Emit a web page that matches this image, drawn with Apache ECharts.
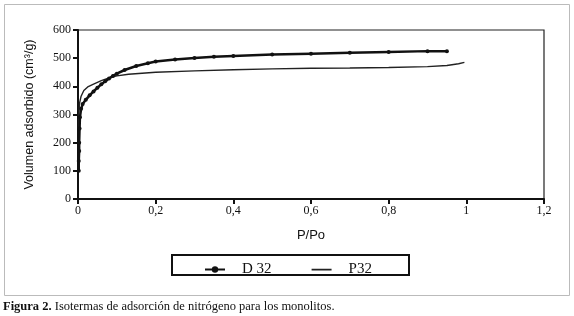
<!DOCTYPE html>
<html>
<head>
<meta charset="utf-8">
<script src="https://cdn.jsdelivr.net/npm/echarts@6/dist/echarts.min.js"></script>
<style>
html,body{margin:0;padding:0;background:#fff;}
#chart{width:574px;height:316px;}
</style>
</head>
<body>
<div id="chart"></div>
<script>
// Data
const seriesNames = ['D 32', 'P32'];
const d32 = [[0.002,100],[0.002,135],[0.003,170],[0.003,200],[0.004,250],[0.005,290],[0.008,320],[0.012,337],[0.02,352],[0.03,368],[0.04,382],[0.05,395],[0.06,407],[0.07,418],[0.08,428],[0.09,437],[0.1,445],[0.12,458],[0.15,472],[0.18,482],[0.2,488],[0.25,495],[0.3,501],[0.35,505],[0.4,508],[0.5,513],[0.6,516],[0.7,519],[0.8,522],[0.9,525],[0.95,525]];
const p32 = [[0.001,250],[0.002,300],[0.004,340],[0.008,365],[0.015,385],[0.025,398],[0.04,408],[0.06,420],[0.08,430],[0.1,437],[0.13,443],[0.2,450],[0.3,455],[0.4,459],[0.5,462],[0.6,464],[0.7,465],[0.8,467],[0.9,470],[0.95,474],[0.98,480],[0.995,485]];
const xTicks = [0, 0.2, 0.4, 0.6, 0.8, 1, 1.2];
const yTicks = [0, 100, 200, 300, 400, 500, 600];
const xTitle = 'P/Po';
const yTitle = 'Volumen adsorbido (cm³/g)';
const captionBold = 'Figura 2.';
const captionText = ' Isotermas de adsorción de nitrógeno para los monolitos.';

const chart = echarts.init(document.getElementById('chart'), null, {renderer:'canvas'});
const serif = '"Liberation Serif", "DejaVu Serif", serif';
const sans = '"Liberation Sans", Arial, sans-serif';
const lineIcon = 'path://M0,0h0.01v0.01h-0.01zM0,3.3h20v1.6h-20zM0,8h0.01v0.01h-0.01z';
chart.setOption({
  animation: false,
  backgroundColor: '#fff',
  grid: {left: 78, top: 30, right: 30, bottom: 117, show: true, borderColor: '#222', borderWidth: 1.2, backgroundColor: 'transparent'},
  xAxis: {
    type: 'value', min: xTicks[0], max: xTicks[xTicks.length-1], interval: 0.2,
    name: xTitle, nameLocation: 'middle', nameGap: 30,
    nameTextStyle: {fontFamily: sans, fontSize: 13, color: '#111'},
    axisLine: {show: true, onZero: false, lineStyle: {color: '#111', width: 2}},
    axisTick: {show: true, length: 5, lineStyle: {color: '#111', width: 2}},
    axisLabel: {fontFamily: serif, fontSize: 12, color: '#111', margin: 6,
      formatter: v => String(+v.toFixed(2)).replace('.', ',')},
    splitLine: {show: false}
  },
  yAxis: {
    type: 'value', min: yTicks[0], max: yTicks[yTicks.length-1], interval: 100,
    name: yTitle, nameLocation: 'middle', nameGap: 42,
    nameTextStyle: {fontFamily: sans, fontSize: 12.5, color: '#111'},
    axisLine: {show: true, onZero: false, lineStyle: {color: '#111', width: 2}},
    axisTick: {show: true, length: 5, lineStyle: {color: '#111', width: 2}},
    axisLabel: {fontFamily: serif, fontSize: 12, color: '#111', margin: 7},
    splitLine: {show: false}
  },
  legend: {
    left: 199, top: 257, itemWidth: 20, itemHeight: 8, itemGap: 40,
    textStyle: {fontFamily: serif, fontSize: 15, color: '#111', padding: [0, 0, 0, 12]},
    data: [
      {name: seriesNames[0]},
      {name: seriesNames[1], icon: lineIcon}
    ]
  },
  graphic: [
    {type: 'rect', shape: {x: 4.5, y: 4.5, width: 565, height: 291}, style: {fill: 'none', stroke: '#bbb', lineWidth: 1}, z: -1},
    {type: 'rect', shape: {x: 172, y: 255, width: 237, height: 20}, style: {fill: 'none', stroke: '#111', lineWidth: 2}},
    {type: 'text', left: 3, top: 300, style: {
      text: '{b|' + captionBold + '}{n|' + captionText + '}',
      rich: {
        b: {fontFamily: serif, fontWeight: 'bold', fontSize: 12.5, fill: '#111'},
        n: {fontFamily: serif, fontSize: 12.5, fill: '#111'}
      }
    }}
  ],
  series: [
    {name: seriesNames[0], type: 'line', data: d32, symbol: 'circle', symbolSize: 4,
      lineStyle: {color: '#111', width: 2.5}, itemStyle: {color: '#111'}, smooth: false, z: 3},
    {name: seriesNames[1], type: 'line', data: p32, symbol: 'none', showSymbol: false,
      lineStyle: {color: '#222', width: 1.4}, itemStyle: {color: '#222'}, smooth: false, z: 2}
  ]
});
</script>
</body>
</html>
